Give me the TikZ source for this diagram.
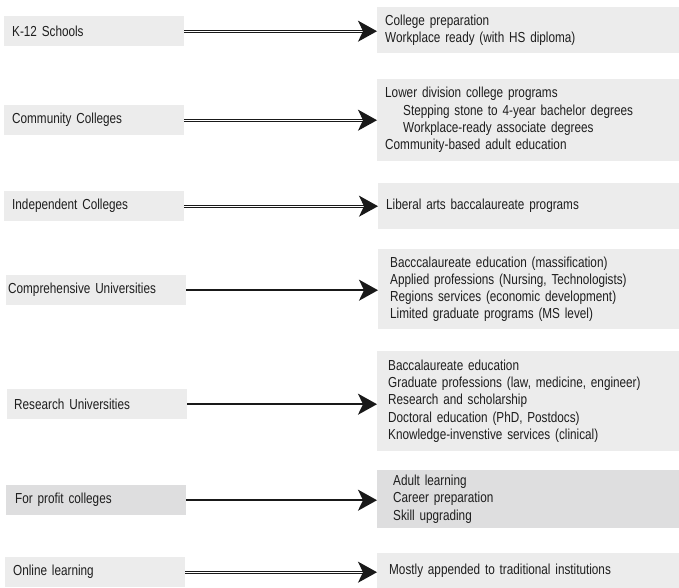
\documentclass[tikz,border=0pt]{standalone}
\usepackage{fontspec}
\setmainfont{Liberation Sans}[FakeStretch=0.81]
\usetikzlibrary{arrows.meta}
\definecolor{boxgray}{HTML}{ECECEC}
\definecolor{boxdark}{HTML}{DEDEDF}
\definecolor{txt}{HTML}{1E1E1E}
\tikzset{
  lbox/.style={fill=boxgray, draw=none, anchor=north west, minimum width=180pt, minimum height=30pt,
    text width=#1, align=left, inner xsep=0pt, font=\fontsize{14.5}{17.3}\selectfont, text=txt},
  rbox/.style={fill=boxgray, draw=none, anchor=north west, minimum width=302pt,
    text width=#1, align=left, inner xsep=0pt, font=\fontsize{14.5}{17.3}\selectfont, text=txt},
  arr/.style={line width=1.8pt, black!90, -{Stealth[length=19pt,width=21pt,inset=5pt]}},
  darr/.style={line width=1.1pt, double distance=0.5pt, double=white, black!90, -{Stealth[length=19pt,width=21pt,inset=5pt]}},
}
\begin{document}
\begin{tikzpicture}[x=1pt,y=-1pt]
\useasboundingbox (0,0) rectangle (679,588);
% left boxes
\node[lbox=164pt] (k12) at (4,16) {K-12 Schools};
\node[lbox=164pt] (cc) at (4,105) {Community Colleges};
\node[lbox=164pt] (ic) at (4,191) {Independent Colleges};
\node[lbox=176pt] (cu) at (6,275) {Comprehensive Universities};
\node[lbox=166pt] (ru) at (7,389) {Research Universities};
\node[lbox=162pt, fill=boxdark] (fp) at (6,485) {For profit colleges};
\node[lbox=164pt] (ol) at (5,557) {Online learning};
% right boxes
\node[rbox=286pt, minimum height=46pt] (k12o) at (377,7) {College preparation\\Workplace ready (with HS diploma)};
\node[rbox=286pt, minimum height=82pt] (cco) at (377,79) {Lower division college programs\\\hspace*{18pt}Stepping stone to 4-year bachelor degrees\\\hspace*{18pt}Workplace-ready associate degrees\\Community-based adult education};
\node[rbox=286pt, minimum height=46pt] (ico) at (378,183) {Liberal arts baccalaureate programs};
\node[rbox=278pt, minimum height=80pt] (cuo) at (378,249) {Bacccalaureate education (massification)\\Applied professions (Nursing, Technologists)\\Regions services (economic development)\\Limited graduate programs (MS level)};
\node[rbox=280pt, minimum height=100pt] (ruo) at (377,351) {Baccalaureate education\\Graduate professions (law, medicine, engineer)\\Research and scholarship\\Doctoral education (PhD, Postdocs)\\Knowledge-invenstive services (clinical)};
\node[rbox=270pt, minimum height=58pt, fill=boxdark] (fpo) at (377,470) {Adult learning\\Career preparation\\Skill upgrading};
\node[rbox=278pt, minimum height=35pt] (olo) at (377,553) {Mostly appended to traditional institutions};
% arrows
\draw[darr] (k12.east) -- (k12.east -| k12o.west);
\draw[darr] (cc.east) -- (cc.east -| cco.west);
\draw[darr] (ic.east) -- (ic.east -| ico.west);
\draw[arr] (cu.east) -- (cu.east -| cuo.west);
\draw[arr] (ru.east) -- (ru.east -| ruo.west);
\draw[arr] (fp.east) -- (fp.east -| fpo.west);
\draw[darr] (ol.east) -- (ol.east -| olo.west);
\end{tikzpicture}
\end{document}
